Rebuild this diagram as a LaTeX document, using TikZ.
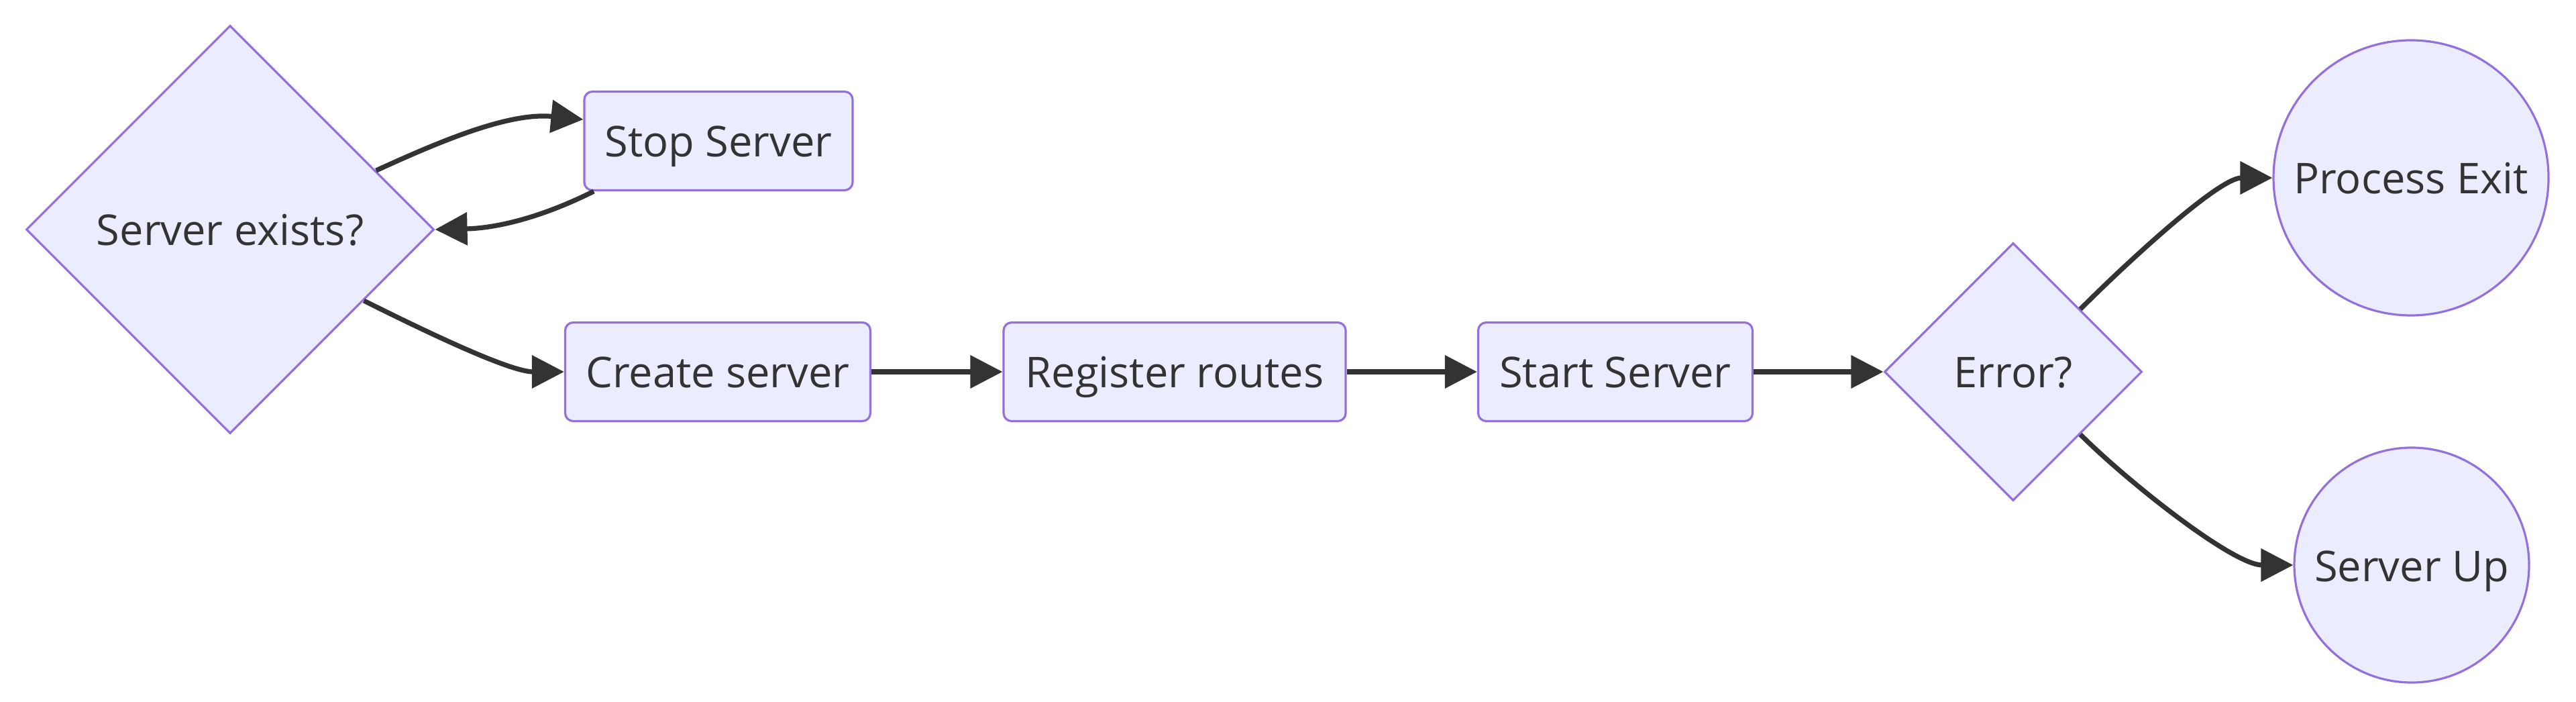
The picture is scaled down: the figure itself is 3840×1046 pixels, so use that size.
\documentclass[tikz,border=0pt]{standalone}
\usepackage{fontspec}
\setmainfont{Open Sans}
\usetikzlibrary{shapes.geometric,arrows.meta}
\definecolor{nfill}{HTML}{ECECFF}
\definecolor{nline}{HTML}{9370DB}
\definecolor{ink}{HTML}{333333}
\tikzset{
  base/.style={fill=nfill,draw=nline,line width=0.8pt,text=ink,font=\fontsize{15.8pt}{18pt}\selectfont,inner sep=0pt,text height=15pt,text depth=3pt},
  box/.style={base,rectangle,rounded corners=3pt,minimum height=36.75pt},
  decision/.style={base,diamond,aspect=1},
  term/.style={base,circle},
  edge/.style={draw=ink,line width=1.8pt,-{Triangle[length=12pt,width=12pt]}}
}
\begin{document}
\begin{tikzpicture}[x=0.25pt,y=-0.25pt]
\useasboundingbox (0,0) rectangle (3840,1046);
\node[decision,minimum width=152pt,minimum height=152pt] (srv) at (343,342) {Server exists?};
\node[box,minimum width=100pt] (stop) at (1071,210) {Stop Server};
\node[box,minimum width=113.75pt] (create) at (1070,554) {Create server};
\node[box,minimum width=127.5pt] (reg) at (1751,554) {Register routes};
\node[box,minimum width=102.25pt] (start) at (2408,554) {Start Server};
\node[decision,minimum width=96pt,minimum height=96pt] (err) at (3001,554) {Error?};
\node[term,minimum size=102.5pt] (exit) at (3594,265) {Process Exit};
\node[term,minimum size=87.5pt] (up) at (3595,842) {Server Up};

\draw[edge] (srv.22.7) .. controls +(92,-42) and +(-112,-11) .. (stop.171.7);
\draw[edge] (stop.202.9) .. controls +(-80,40) and +(90,-2) .. (srv.east);
\draw[edge] (srv.-28.1) .. controls +(100,50) and +(-80,0) .. (create.west);
\draw[edge] (create.east) -- (reg.west);
\draw[edge] (reg.east) -- (start.west);
\draw[edge] (start.east) -- (err.west);
\draw[edge] (err.43.5) .. controls +(70,-70) and +(-80,0) .. (exit.west);
\draw[edge] (err.-43.5) .. controls +(70,70) and +(-90,0) .. (up.west);
\end{tikzpicture}
\end{document}
